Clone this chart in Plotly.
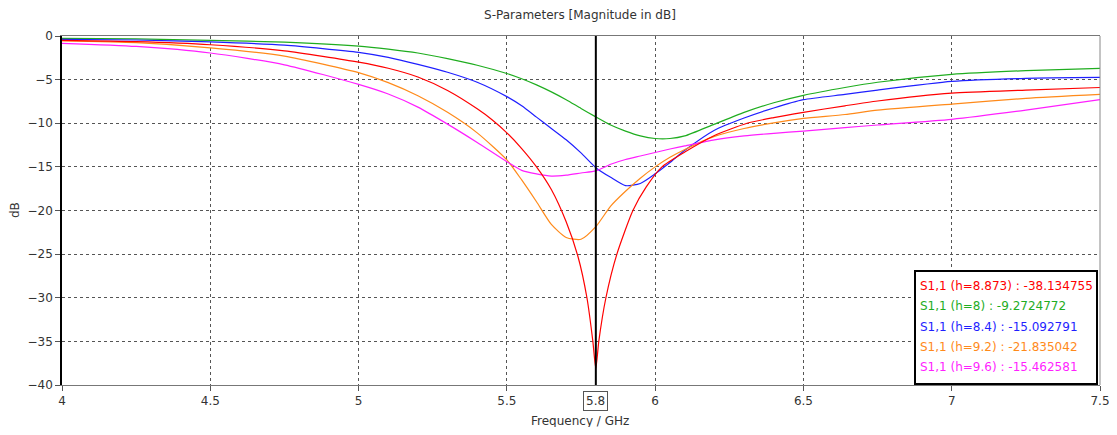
import plotly.graph_objects as go

# ---------------- data ----------------
freq_common = [4.0, 4.25, 4.5, 4.75, 5.0, 5.1, 5.2, 5.3, 5.4, 5.5, 5.55, 5.6, 5.65, 5.7, 5.75,
               5.8, 5.85, 5.9, 5.95, 6.0, 6.05, 6.1, 6.2, 6.3, 6.4, 6.5, 6.64, 6.75, 7.0, 7.25, 7.5]

s11_h8 = [-0.27, -0.34, -0.5, -0.7, -1.15, -1.5, -1.95, -2.6, -3.35, -4.3, -4.9, -5.6, -6.4, -7.3, -8.3,
          -9.27, -10.2, -10.9, -11.45, -11.75, -11.75, -11.45, -10.1, -8.75, -7.65, -6.8, -5.9, -5.3, -4.4, -3.97, -3.7]

s11_h84 = [-0.38, -0.46, -0.68, -1.05, -1.87, -2.45, -3.25, -4.15, -5.3, -6.95, -8.0, -9.3, -10.6, -11.9, -13.4,
           -15.09, -16.2, -17.15, -16.9, -15.8, -14.5, -13.1, -10.8, -9.4, -8.25, -7.3, -6.7, -6.2, -5.2, -4.85, -4.75]

s11_h92 = [-0.57, -0.77, -1.35, -2.3, -4.2, -5.35, -6.85, -8.75, -11.1, -14.2, -16.5, -19.0, -21.6, -23.1, -23.3,
           -21.85, -19.5, -17.8, -16.3, -15.0, -13.9, -13.0, -11.5, -10.6, -9.95, -9.45, -9.0, -8.5, -7.8, -7.15, -6.7]

s11_h96 = [-0.84, -1.2, -1.95, -3.3, -5.55, -6.65, -8.15, -10.1, -12.2, -14.4, -15.4, -15.8, -16.05, -15.95, -15.7,
           -15.46, -14.7, -14.15, -13.75, -13.35, -12.95, -12.6, -11.9, -11.45, -11.15, -10.9, -10.5, -10.2, -9.55, -8.5, -7.3]

freq_red = [4.0, 4.25, 4.5, 4.75, 5.0, 5.1, 5.2, 5.3, 5.4, 5.45, 5.5, 5.55, 5.6, 5.65, 5.7, 5.74,
            5.77, 5.79, 5.8, 5.81, 5.834, 5.871, 5.925, 5.97, 6.023, 6.1, 6.2, 6.31, 6.4,
            6.5, 6.64, 6.75, 7.0, 7.25, 7.5]
s11_h8873 = [-0.5, -0.65, -1.0, -1.7, -3.0, -3.7, -4.7, -6.25, -8.35, -9.6, -11.1, -12.9, -15.0, -17.6, -21.3, -25.3,
             -30.0, -35.0, -38.13, -35.0, -30.0, -25.0, -20.0, -17.3, -15.0, -13.3, -11.4, -10.0, -9.35,
             -8.75, -8.0, -7.45, -6.55, -6.2, -5.9]

legend_labels = ["S1,1 (h=8.873) : -38.134755",
                 "S1,1 (h=8) : -9.2724772",
                 "S1,1 (h=8.4) : -15.092791",
                 "S1,1 (h=9.2) : -21.835042",
                 "S1,1 (h=9.6) : -15.462581"]
colors = ["#ff0000", "#1fad1f", "#1f1fff", "#ff8a1a", "#ff1fff"]

x_ticks = [4, 4.5, 5, 5.5, 6, 6.5, 7, 7.5]
x_tick_text = ["4", "4.5", "5", "5.5", "6", "6.5", "7", "7.5"]
y_ticks = [0, -5, -10, -15, -20, -25, -30, -35, -40]
marker_freq = 5.8

# ---------------- figure ----------------
FONT = "DejaVu Sans"
TXT = "#333333"
fig = go.Figure()

series = [
    (freq_red, s11_h8873, colors[0]),
    (freq_common, s11_h8, colors[1]),
    (freq_common, s11_h84, colors[2]),
    (freq_common, s11_h92, colors[3]),
    (freq_common, s11_h96, colors[4]),
]
for idx in [1, 2, 3, 4, 0]:
    fx, fy, c = series[idx]
    fig.add_trace(go.Scatter(x=fx, y=fy, mode="lines",
                             line=dict(color=c, width=1.2, shape="spline", smoothing=0.6),
                             showlegend=False, hoverinfo="skip"))

# page is rendered with an 8px body margin: figure origin sits at page (8, 8)
OFF = 8
W, H = 1117 - 2 * OFF, 435 - 2 * OFF
plot_l, plot_r, plot_t, plot_b = 62, 1100, 36, 385  # page pixels of the plot area
ml = plot_l - OFF
mt = plot_t - OFF
mr = W - (plot_r - OFF)
mb = H - (plot_b - OFF)
pw, ph = plot_r - plot_l, plot_b - plot_t


def px_to_paper_x(px):
    return (px - plot_l) / pw


def px_to_paper_y(py):
    return (plot_b - py) / ph


fig.update_layout(
    width=W, height=H,
    margin=dict(l=ml, r=mr, t=mt, b=mb, autoexpand=False),
    paper_bgcolor="white", plot_bgcolor="white",
    font=dict(family=FONT, size=12, color=TXT),
    title=dict(text="S-Parameters [Magnitude in dB]", x=(580 - OFF) / W, xanchor="center",
               y=1 - (15 - OFF) / H, yanchor="middle", font=dict(family=FONT, size=12, color=TXT)),
    showlegend=False,
)

fig.update_xaxes(range=[4, 7.5], tickvals=x_ticks, ticktext=x_tick_text,
                 showgrid=True, gridcolor="#555555", griddash="dot", gridwidth=1,
                 showline=True, linecolor="#777777", linewidth=1, mirror=True,
                 ticks="outside", ticklen=5, tickcolor="#555555", ticklabeloverflow="allow",
                 tickfont=dict(family=FONT, size=12, color=TXT), zeroline=False)
fig.update_yaxes(range=[-40, 0], tickvals=y_ticks,
                 showgrid=True, gridcolor="#555555", griddash="dot", gridwidth=1,
                 showline=True, linecolor="#000000", linewidth=1.5,
                 ticks="outside", ticklen=5, tickcolor="#555555",
                 tickfont=dict(family=FONT, size=12, color=TXT), zeroline=False)

# right frame border (grey)
fig.add_shape(type="line", xref="paper", yref="paper", x0=1, x1=1, y0=0, y1=1,
              line=dict(color="#888888", width=1))
# marker line
fig.add_shape(type="line", xref="x", yref="paper", x0=marker_freq, x1=marker_freq, y0=0, y1=1,
              line=dict(color="#000000", width=2))

# boxed marker label
fig.add_annotation(x=marker_freq, xref="x", xanchor="center", y=px_to_paper_y(401), yref="paper",
                   yanchor="middle", text=f"{marker_freq:g}", showarrow=False, bordercolor="#555555",
                   borderwidth=1, borderpad=2, bgcolor="white", font=dict(family=FONT, size=12, color=TXT))

# axis titles
fig.add_annotation(x=px_to_paper_x(580), xref="paper", xanchor="center",
                   y=px_to_paper_y(421), yref="paper", yanchor="middle",
                   text="Frequency / GHz", showarrow=False, font=dict(family=FONT, size=12, color=TXT))
fig.add_annotation(x=px_to_paper_x(15), xref="paper", xanchor="center",
                   y=px_to_paper_y(210), yref="paper", yanchor="middle",
                   text="dB", textangle=-90, showarrow=False, font=dict(family=FONT, size=12, color=TXT))

# legend box
fig.add_shape(type="rect", xref="paper", yref="paper",
              x0=px_to_paper_x(915), x1=px_to_paper_x(1097),
              y0=px_to_paper_y(384), y1=px_to_paper_y(271),
              line=dict(color="#000000", width=2), fillcolor="white", layer="above")
for i, (lab, c) in enumerate(zip(legend_labels, colors)):
    fig.add_annotation(x=px_to_paper_x(918), xref="paper", xanchor="left",
                       y=px_to_paper_y(286 + i * 20.3), yref="paper", yanchor="middle",
                       text=lab, showarrow=False, font=dict(family=FONT, size=12, color=c))

fig.write_html("out.html")
